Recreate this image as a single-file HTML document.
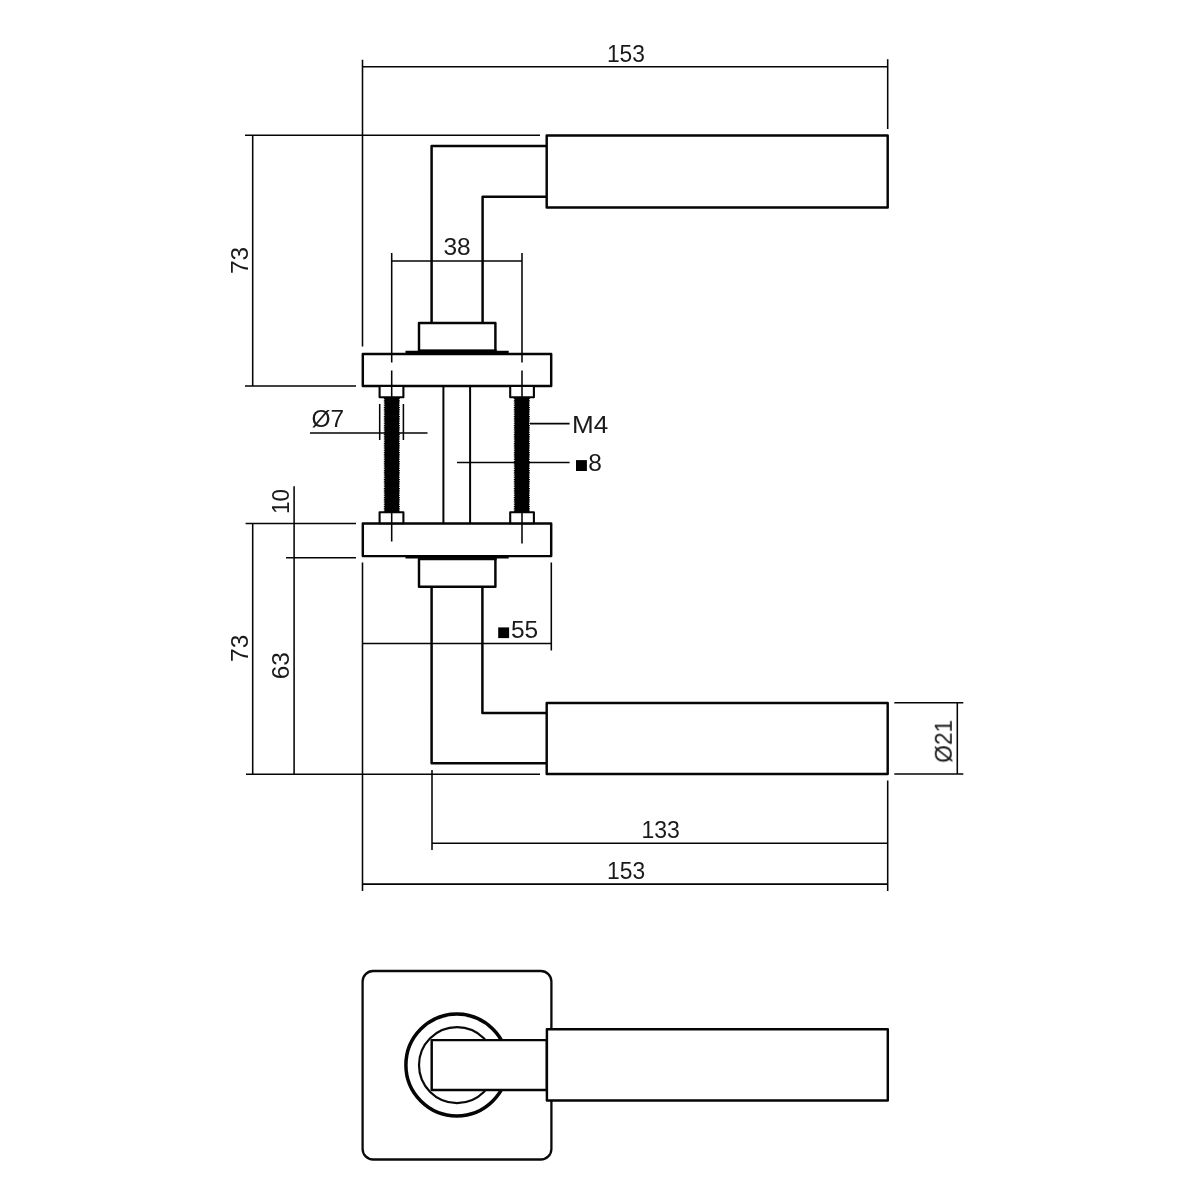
<!DOCTYPE html>
<html>
<head>
<meta charset="utf-8">
<title>Door handle technical drawing</title>
<style>
html,body{margin:0;padding:0;background:#fff;}
body{width:1200px;height:1200px;overflow:hidden;font-family:"Liberation Sans",sans-serif;}
svg{display:block;}
text{font-family:"Liberation Sans",sans-serif;fill:#1a1a1a;}
.o{stroke:#050505;stroke-width:2.45;fill:#fff;stroke-linejoin:round;}
.ol{stroke:#050505;stroke-width:2.5;fill:none;stroke-linejoin:round;}
.d{stroke:#050505;stroke-width:1.55;fill:none;}
.k{stroke:#000;stroke-width:4.6;fill:none;}
</style>
</head>
<body>
<svg width="1200" height="1200" viewBox="0 0 1200 1200">
<rect x="0" y="0" width="1200" height="1200" fill="#fff"/>

<!-- ===== dimension lines (under objects) ===== -->
<g class="d">
  <!-- top 153 -->
  <path d="M362.5 59.7V346.5M887.7 59.2V129M362.5 66.7H887.7"/>
  <!-- top 73 -->
  <path d="M245 135.2H540M245 386H356M252.7 135.2V386"/>
  <!-- dia 7 -->
  <path d="M310 433H427.5M379.7 404V440M403.4 404V440"/>
  <!-- M4 / sq8 leaders -->
  <path d="M530 423.6H569.6M457 462.5H569.6"/>
  <!-- 10 / 63 / 73 bottom -->
  <path d="M245.6 523.4H356M286 557.8H356M294.1 486.3V774.2M252.7 523.4V774.2M246 774.2H540"/>
  <!-- sq55 -->
  <path d="M362.5 562.5V891M551.3 562.5V650.5M362.5 643.5H551.3"/>
  <!-- 133 -->
  <path d="M432 770V850M432 843.2H887.7"/>
  <!-- 153 bottom -->
  <path d="M362.5 884.1H887.7M887.7 780.5V891"/>
  <!-- dia 21 -->
  <path d="M894.3 702.7H963.3M894.3 774H963.3M957.3 702.7V774"/>
</g>

<!-- ===== top handle ===== -->
<path class="ol" d="M431.6 322.7V146H546.7M482.6 322.7V196.7H546.7"/>
<rect class="o" x="546.7" y="135.5" width="341" height="71.9"/>
<rect class="o" x="419" y="322.9" width="76.4" height="28"/>
<rect class="o" x="362.8" y="354" width="188.4" height="31.9"/>
<path fill="#000" d="M405.5 350.8H418V349.6H496.6V350.8H508.7V354.8H405.5Z"/>

<!-- ===== bottom handle ===== -->
<rect class="o" x="362.8" y="523.4" width="188.4" height="32.7"/>
<path fill="#000" d="M405.5 555H508.7V558.6H496.6V560.3H418V558.6H405.5Z"/>
<rect class="o" x="419" y="559" width="76.4" height="27.7"/>
<path class="ol" d="M431.6 587V763.3H546.7M482.4 587V713H546.7"/>
<rect class="o" x="546.7" y="702.9" width="341" height="71"/>

<!-- spindle -->
<path class="ol" style="stroke-width:2" d="M443.4 386V523M470.1 386V523"/>

<!-- nuts -->
<g class="o" style="stroke-width:2.1">
  <rect x="379.6" y="386" width="23.8" height="11.3"/>
  <rect x="510.2" y="386" width="23.7" height="11.3"/>
  <rect x="379.6" y="512.3" width="23.8" height="11"/>
  <rect x="510.2" y="512.3" width="23.7" height="11"/>
</g>
<!-- threaded rods -->
<g fill="#000" stroke="none">
  <rect x="384.6" y="397.5" width="14.4" height="114.5"/>
  <rect x="514.6" y="397.5" width="14.4" height="114.5"/>
</g>
<g stroke="#000" stroke-width="1.2" stroke-dasharray="0.9 0.9" fill="none">
  <path d="M384.4 398V512M399.3 398V512M514.4 398V512M529.3 398V512"/>
</g>
<!-- 38 dimension + centre lines (over plates) -->
<g class="d">
  <path d="M391.7 261H522M391.7 253V362.5M391.7 370.5V397M522 253V362.5M522 370.5V397"/>
  <path d="M391.7 512.5V541.5M522 512.5V543.5"/>
</g>

<!-- ===== bottom view ===== -->
<rect x="362.6" y="971" width="188.8" height="188.5" rx="10.5" ry="10.5" fill="#fff" stroke="#0a0a0a" stroke-width="2.3"/>
<circle cx="456.8" cy="1065" r="50.9" fill="none" stroke="#050505" stroke-width="3.5"/>
<circle cx="457" cy="1065.1" r="38" fill="none" stroke="#0a0a0a" stroke-width="2.2"/>
<rect class="o" x="431.7" y="1040.1" width="115.2" height="49.8"/>
<rect class="o" x="546.9" y="1029.3" width="340.9" height="71.2"/>

<!-- ===== text ===== -->
<g font-size="24.5" style="opacity:0.999">
  <text id="t1" x="644.9" y="61.9" text-anchor="end" textLength="38" lengthAdjust="spacingAndGlyphs">153</text>
  <text id="t2" x="457.1" y="255" text-anchor="middle">38</text>
  <text id="t3" x="327.8" y="426.6" text-anchor="middle">&#216;7</text>
  <text id="t4" x="572" y="432.9" textLength="36.2" lengthAdjust="spacingAndGlyphs">M4</text>
  <text id="t5" x="588.3" y="471">8</text>
  <text id="t6" x="510.9" y="638.2">55</text>
  <text id="t7" x="679.9" y="837.7" text-anchor="end" textLength="38.4" lengthAdjust="spacingAndGlyphs">133</text>
  <text id="t8" x="645.1" y="879.2" text-anchor="end" textLength="38" lengthAdjust="spacingAndGlyphs">153</text>
  <text id="t9" transform="translate(247.9 260.4) rotate(-90)" text-anchor="middle">73</text>
  <text id="t10" transform="translate(289.2 501.5) rotate(-90)" text-anchor="middle" textLength="25" lengthAdjust="spacingAndGlyphs">10</text>
  <text id="t11" transform="translate(247.6 648.3) rotate(-90)" text-anchor="middle">73</text>
  <text id="t12" transform="translate(289.3 665.7) rotate(-90)" text-anchor="middle">63</text>
  <text id="t13" transform="translate(951.8 741.3) rotate(-90)" text-anchor="middle" textLength="43" lengthAdjust="spacingAndGlyphs">&#216;21</text>
</g>
<rect x="576" y="460.1" width="10.9" height="10.9" fill="#000"/>
<rect x="498.2" y="627.4" width="10.9" height="10.7" fill="#000"/>
</svg>
</body>
</html>
